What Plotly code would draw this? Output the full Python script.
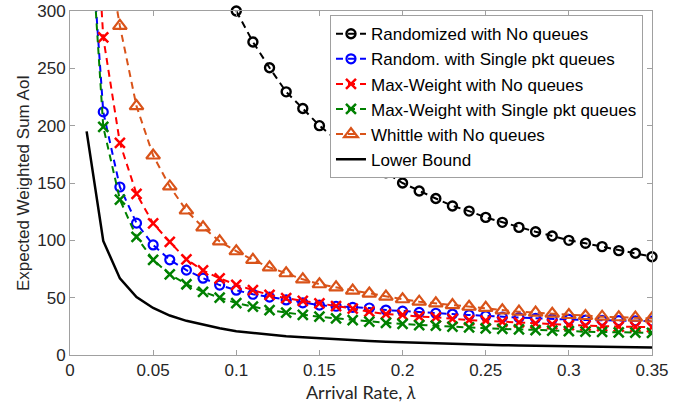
import plotly.graph_objects as go

# ---- data ----
lam_all = [0.01, 0.02, 0.03, 0.04, 0.05, 0.06, 0.07, 0.08, 0.09, 0.10,
           0.11, 0.12, 0.13, 0.14, 0.15, 0.16, 0.17, 0.18, 0.19, 0.20,
           0.21, 0.22, 0.23, 0.24, 0.25, 0.26, 0.27, 0.28, 0.29, 0.30,
           0.31, 0.32, 0.33, 0.34, 0.35]

lam_rand_noq = lam_all[9:]
rand_noq = [300, 273, 250.5, 229.5, 215, 200, 188, 178, 167, 159,
            150, 143, 136.5, 130, 125.5, 120, 115.7, 111.3, 107.5, 103.8,
            100, 97.4, 94.5, 91, 88.7, 85.7]

rand_single = [420, 212, 146.5, 115, 96, 83, 74, 67, 61, 56.5,
               53, 50.5, 48, 45.5, 43.5, 42.5, 41.5, 41, 39.2, 38.2,
               37.2, 36.4, 35.7, 34.9, 34, 33, 32.6, 32, 31.2, 31,
               30.5, 30.3, 30, 29.7, 29.6]

mw_noq = [520, 277, 185, 140.5, 114.8, 98.6, 83.4, 73.8, 66.8, 61.2,
          56.6, 52.4, 49.5, 47.3, 45, 42.7, 40.5, 37.8, 35.7, 34.9,
          33.4, 32.9, 31.4, 30.4, 29.9, 29, 28.4, 27.6, 27, 26.1,
          25.6, 25.1, 24.8, 24.5, 24.3]

mw_single = [425, 199, 135.5, 103, 83, 70.3, 61.7, 55.1, 50, 45.3,
             42.2, 39.2, 36.9, 34.9, 33.4, 32, 30.5, 29.1, 28.1, 27.1,
             26.1, 25.6, 24.7, 24.1, 23.3, 22.7, 22.4, 21.7, 21.2, 20.9,
             20.3, 20.2, 19.7, 19.6, 19.2]

lam_whittle = lam_all[1:]
whittle_noq = [372, 287, 217, 174, 147, 126, 111.3, 99.1, 90.5,
               83, 76.4, 71.3, 66, 61.7, 59, 56.1, 53.6, 50.9, 48.6,
               46.5, 45, 43.5, 42.1, 41.1, 39, 37.8, 37, 36, 34.9,
               34, 33.4, 32.9, 32.6, 31.9]

lower_bound = [195, 99.5, 66.8, 50.6, 41, 34.4, 29.8, 26.3, 23.3, 20.7,
               19.2, 17.7, 16.4, 15.4, 14.5, 13.7, 12.9, 12.2, 11.6, 11.1,
               10.6, 10.1, 9.7, 9.3, 9, 8.6, 8.3, 8, 7.8, 7.5,
               7.3, 7.1, 6.9, 6.7, 6.5]

names = ["Randomized with No queues", "Random. with Single pkt queues",
         "Max-Weight with No queues", "Max-Weight with Single pkt queues",
         "Whittle with No queues", "Lower Bound"]

x_ticks = [0, 0.05, 0.1, 0.15, 0.2, 0.25, 0.3, 0.35]
x_tick_text = ["0", "0.05", "0.1", "0.15", "0.2", "0.25", "0.3", "0.35"]
y_ticks = [0, 50, 100, 150, 200, 250, 300]

# ---- figure ----
DASH = "7px,5px"
fig = go.Figure()

fig.add_trace(go.Scatter(
    x=lam_rand_noq, y=rand_noq, name=names[0], mode="lines+markers",
    line=dict(color="black", width=2, dash=DASH),
    marker=dict(symbol="circle-open", size=9, color="black", line=dict(width=2.4)),
    cliponaxis=False))
fig.add_trace(go.Scatter(
    x=lam_all, y=rand_single, name=names[1], mode="lines+markers",
    line=dict(color="#0000ff", width=2, dash=DASH),
    marker=dict(symbol="circle-open", size=9, color="#0000ff", line=dict(width=2.2))))
fig.add_trace(go.Scatter(
    x=lam_all, y=mw_noq, name=names[2], mode="lines+markers",
    line=dict(color="#ff0000", width=2, dash=DASH),
    marker=dict(symbol="x-thin-open", size=10, color="#ff0000", line=dict(width=2.5, color="#ff0000"))))
fig.add_trace(go.Scatter(
    x=lam_all, y=mw_single, name=names[3], mode="lines+markers",
    line=dict(color="#008000", width=2, dash=DASH),
    marker=dict(symbol="x-thin-open", size=10, color="#008000", line=dict(width=2.5, color="#008000"))))
fig.add_trace(go.Scatter(
    x=lam_whittle, y=whittle_noq, name=names[4], mode="lines+markers",
    line=dict(color="#d95319", width=2, dash=DASH),
    marker=dict(symbol="triangle-up-open", size=12, color="#d95319", line=dict(width=2.2))))
fig.add_trace(go.Scatter(
    x=lam_all, y=lower_bound, name=names[5], mode="lines",
    line=dict(color="black", width=2.5)))

axis_common = dict(
    automargin=False,
    showline=True, linecolor="#a0a0a0", linewidth=1, mirror="ticks",
    ticks="inside", ticklen=5, tickcolor="#a0a0a0", tickwidth=1,
    showgrid=False, zeroline=False, ticklabeloverflow="allow",
    tickfont=dict(family="Liberation Sans, Arial, sans-serif", size=17, color="#262626"),
)

fig.update_xaxes(range=[0, 0.35], tickvals=x_ticks, ticktext=x_tick_text,
                 title=dict(text="Arrival Rate, <i>λ</i>", standoff=6,
                            font=dict(family="Lato, sans-serif", size=18, color="#262626")),
                 **axis_common)
fig.update_yaxes(range=[0, 300], tickvals=y_ticks,
                 title=dict(text="Expected Weighted Sum AoI", standoff=3,
                            font=dict(family="Liberation Sans, Arial, sans-serif", size=17, color="#262626")),
                 **axis_common)

fig.update_layout(
    width=683, height=412,
    margin=dict(l=70, r=31, t=11, b=57, autoexpand=False),
    plot_bgcolor="white", paper_bgcolor="white",
    showlegend=True,
    legend=dict(x=0.9845, y=0.988, xanchor="right", yanchor="top",
                bgcolor="white", bordercolor="#a0a0a0", borderwidth=1,
                itemwidth=30, tracegroupgap=0,
                font=dict(family="Liberation Sans, Arial, sans-serif", size=17, color="black")),
)

fig.write_html("out.html", config={"displayModeBar": False},
               post_script="document.body.style.margin='0';")
